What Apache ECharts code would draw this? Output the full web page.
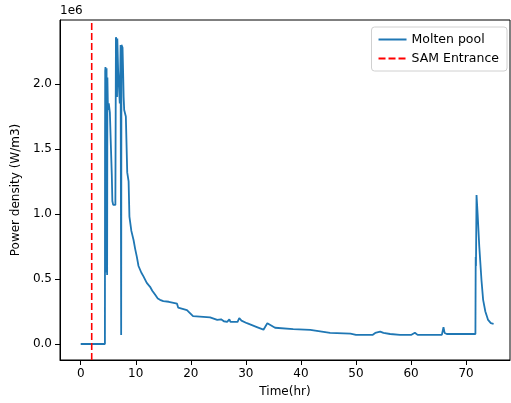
<!DOCTYPE html>
<html>
<head>
<meta charset="utf-8">
<script src="https://cdn.jsdelivr.net/npm/echarts@6/dist/echarts.min.js"></script>
<style>html,body{margin:0;padding:0;background:#fff;}#c{width:511px;height:403px;}</style>
</head>
<body>
<div id="c"></div>
<script>
// Time (hr)
var timeHr = [0, 4.4, 4.42, 4.45, 4.5, 4.55, 4.6, 4.65, 4.7, 4.8, 4.85, 4.95, 5.1, 5.3, 5.5, 5.65, 5.75, 5.9, 6.3,
  6.4, 6.5, 6.6, 6.65, 6.8, 7.0, 7.1, 7.25, 7.35, 7.4, 7.6, 7.7, 7.8, 7.9, 8.2, 8.45, 8.7, 8.85, 9.2, 9.6, 9.9,
  10.2, 10.5, 11, 11.4, 12, 12.6, 13, 13.5, 14, 14.4, 15, 16, 17.5, 17.7, 19.3, 20.4, 23.5, 24.8, 25.5, 26,
  26.6, 27, 27.2, 28.5, 28.8, 29.2, 30.2, 32, 33.2, 33.9, 35.3, 38.6, 41.7, 42, 45.3, 49, 50, 53, 53.5, 54.4,
  55, 56.2, 58, 60, 60.7, 61.2, 65.6, 65.9, 66.1, 66.5, 71.7, 71.75, 71.8, 71.9, 72.1, 72.4, 72.8, 73.1, 73.5,
  74.0, 74.5, 75.0];
// Power density (W/m3), in units of 1e6
var powerDensity = [0, 0, 1.5, 2.1, 2.13, 1.9, 0.55, 2.0, 2.12, 0.53, 2.05, 1.8, 1.85, 1.78, 1.5, 1.3, 1.1, 1.07, 1.07,
  2.36, 2.34, 1.9, 2.35, 2.1, 2.1, 1.85, 2.3, 0.07, 2.3, 2.28, 2.1, 1.9, 1.8, 1.75, 1.32, 1.25, 0.98, 0.87, 0.8, 0.73,
  0.67, 0.6, 0.55, 0.52, 0.47, 0.44, 0.41, 0.38, 0.35, 0.34, 0.33, 0.325, 0.31, 0.28, 0.26, 0.215, 0.205, 0.185, 0.19, 0.175,
  0.17, 0.19, 0.17, 0.17, 0.2, 0.18, 0.16, 0.13, 0.11, 0.16, 0.125, 0.115, 0.108, 0.1, 0.085, 0.08, 0.07, 0.07, 0.085, 0.095,
  0.085, 0.077, 0.07, 0.07, 0.087, 0.07, 0.07, 0.13, 0.085, 0.077, 0.077, 0.67, 0.6, 1.146, 1.0, 0.75, 0.49, 0.34, 0.25,
  0.185, 0.16, 0.155];
var samEntranceHr = 2;
var xTicks = [0, 10, 20, 30, 40, 50, 60, 70];
var yTicks = [0, 0.5, 1.0, 1.5, 2.0];
var scale = 1e6;

var xMin = -3.76, xMax = 77.98;
var yMin = -0.123 * scale, yMax = 2.492 * scale;

var molten = timeHr.map(function (t, i) { return [t, powerDensity[i] * scale]; });
var sam = [[samEntranceHr, yMin], [samEntranceHr, yMax]];

var font = 'DejaVu Sans';
var chart = echarts.init(document.getElementById('c'));
chart.setOption({
  animation: false,
  backgroundColor: '#fff',
  grid: { left: 60, top: 20, width: 450, height: 340, show: true, borderColor: '#000', borderWidth: 1, containLabel: false },
  graphic: [{ type: 'text', left: 60, top: 5, style: { text: '1e6', font: '12px "DejaVu Sans"', fill: '#000' } }],
  legend: {
    right: 4, top: 27, orient: 'vertical', itemWidth: 28, itemHeight: 14, itemGap: 6,
    padding: [6, 8, 6, 6], borderColor: '#d0d0d0', borderWidth: 1, borderRadius: 3,
    textStyle: { fontFamily: font, fontSize: 12.5, color: '#000' },
    itemStyle: { opacity: 0, borderWidth: 0 },
    data: ['Molten pool', 'SAM Entrance']
  },
  xAxis: {
    type: 'value', min: xMin, max: xMax,
    name: 'Time(hr)', nameLocation: 'middle', nameGap: 26,
    nameTextStyle: { fontFamily: font, fontSize: 12, color: '#000' },
    axisLine: { show: true, onZero: false, lineStyle: { color: '#000', width: 1 } },
    axisTick: { show: true, length: 5, lineStyle: { color: '#000' }, customValues: xTicks },
    axisLabel: { fontFamily: font, fontSize: 12, color: '#000', margin: 8, customValues: xTicks },
    splitLine: { show: false }
  },
  yAxis: {
    type: 'value', min: yMin, max: yMax,
    name: 'Power density (W/m3)', nameLocation: 'middle', nameGap: 36,
    nameTextStyle: { fontFamily: font, fontSize: 12, color: '#000' },
    axisLine: { show: true, onZero: false, lineStyle: { color: '#000', width: 1 } },
    axisTick: { show: true, length: 5, lineStyle: { color: '#000' }, customValues: yTicks.map(function (v) { return v * scale; }) },
    axisLabel: { fontFamily: font, fontSize: 12, color: '#000', margin: 8,
      customValues: yTicks.map(function (v) { return v * scale; }),
      formatter: function (v) { return (v / scale).toFixed(1); } },
    splitLine: { show: false }
  },
  series: [
    { name: 'Molten pool', type: 'line', data: molten, showSymbol: false, symbol: 'none',
      lineStyle: { color: '#1f77b4', width: 1.8 }, itemStyle: { color: '#1f77b4' } },
    { name: 'SAM Entrance', type: 'line', data: sam, showSymbol: false, symbol: 'none',
      lineStyle: { color: '#ff0000', width: 1.6, type: [7, 3] }, itemStyle: { color: '#ff0000' } }
  ]
});
</script>
</body>
</html>
